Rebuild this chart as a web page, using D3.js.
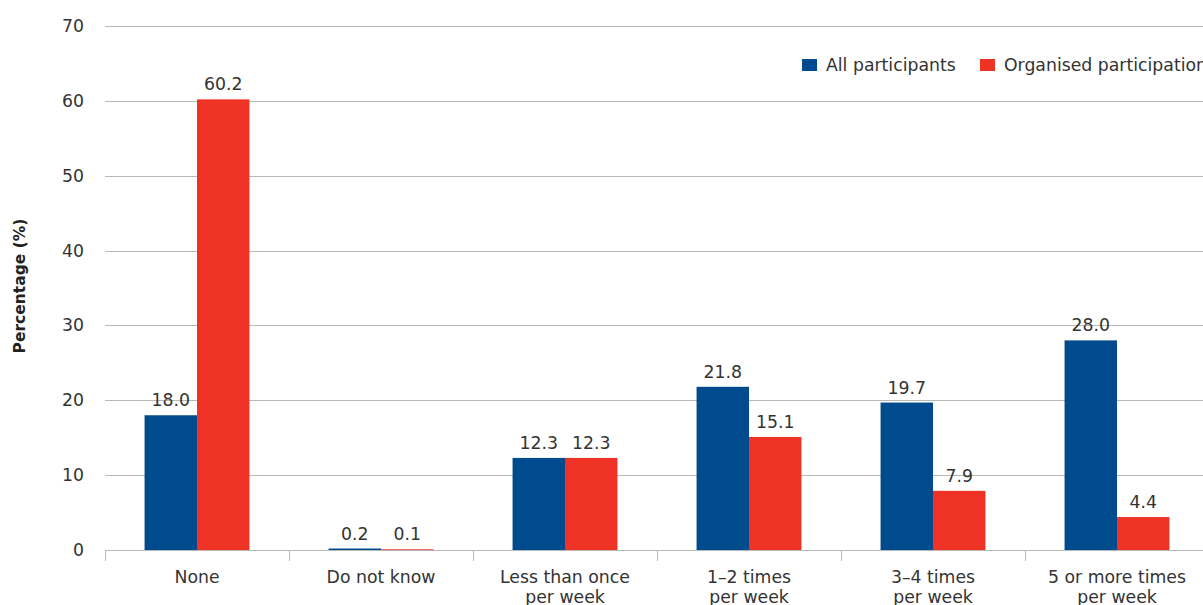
<!DOCTYPE html>
<html>
<head>
<meta charset="utf-8">
<script src="https://cdn.jsdelivr.net/npm/d3@7"></script>
<style>
  html, body { margin: 0; padding: 0; background: #fff; }
  svg { display: block; font-family: "DejaVu Sans", "Liberation Sans", Arial, sans-serif; }
</style>
</head>
<body>
<svg id="chart" width="1203" height="605"></svg>
<script>
// Frequency categories (each label may wrap onto two lines)
const categories = [
  ["None"],
  ["Do not know"],
  ["Less than once", "per week"],
  ["1\u20132 times", "per week"],
  ["3\u20134 times", "per week"],
  ["5 or more times", "per week"]
];
const seriesNames = ["All participants", "Organised participation"];
const allParticipants = [18.0, 0.2, 12.3, 21.8, 19.7, 28.0];
const organisedParticipation = [60.2, 0.1, 12.3, 15.1, 7.9, 4.4];
const yTicks = [0, 10, 20, 30, 40, 50, 60, 70];
const colors = ["#004b8d", "#ee3224"];

const svg = d3.select("#chart");
const plotLeft = 105, plotRight = 1209, plotTop = 26, plotBottom = 550;
const fontSize = 17.3;

const x0 = d3.scaleBand().domain(d3.range(categories.length)).range([plotLeft, plotRight]).paddingInner(0.43).paddingOuter(0.215);
const x1 = d3.scaleBand().domain([0, 1]).range([0, x0.bandwidth()]);
const y = d3.scaleLinear().domain([0, 70]).range([plotBottom, plotTop]);

// Horizontal gridlines
svg.append("g").selectAll("line").data(yTicks.filter(d => d > 0)).join("line")
  .attr("x1", plotLeft).attr("x2", 1203)
  .attr("y1", d => Math.round(y(d)) + 0.5).attr("y2", d => Math.round(y(d)) + 0.5)
  .attr("stroke", "#b8b8b8").attr("stroke-width", 1);

// Y tick labels
svg.append("g").selectAll("text").data(yTicks).join("text")
  .attr("x", 84).attr("y", d => y(d)).attr("dy", "0.35em")
  .attr("text-anchor", "end").attr("font-size", fontSize).attr("fill", "#333")
  .text(d => d);

// Y axis title
svg.append("text")
  .attr("transform", `translate(25,286) rotate(-90)`)
  .attr("text-anchor", "middle").attr("font-size", 15.5).attr("font-weight", "bold").attr("fill", "#222")
  .text("Percentage (%)");

// Bars
const series = [allParticipants, organisedParticipation];
const groups = svg.append("g").selectAll("g").data(categories.map((c, i) => i)).join("g")
  .attr("transform", i => `translate(${x0(i)},0)`);

groups.selectAll("rect").data(i => series.map((s, k) => ({ k, v: s[i] }))).join("rect")
  .attr("x", d => x1(d.k)).attr("width", x1.bandwidth())
  .attr("y", d => y(d.v)).attr("height", d => plotBottom - y(d.v))
  .attr("fill", d => colors[d.k]);

// Value labels
groups.selectAll("text").data(i => series.map((s, k) => ({ k, v: s[i] }))).join("text")
  .attr("x", d => x1(d.k) + x1.bandwidth() / 2)
  .attr("y", d => y(d.v) - 9)
  .attr("text-anchor", "middle").attr("font-size", fontSize).attr("fill", "#333")
  .text(d => d.v.toFixed(1));

// Baseline and category ticks
svg.append("line").attr("x1", plotLeft).attr("x2", 1203).attr("y1", plotBottom + 0.5).attr("y2", plotBottom + 0.5)
  .attr("stroke", "#b8b8b8");
const step = x0.step();
svg.append("g").selectAll("line").data(d3.range(categories.length + 1)).join("line")
  .attr("x1", i => Math.round(plotLeft + i * step) + 0.5).attr("x2", i => Math.round(plotLeft + i * step) + 0.5)
  .attr("y1", plotBottom).attr("y2", plotBottom + 11)
  .attr("stroke", "#b8b8b8");

// Category labels
const catText = svg.append("g").selectAll("text").data(categories).join("text")
  .attr("x", (d, i) => x0(i) + x0.bandwidth() / 2)
  .attr("y", 583)
  .attr("text-anchor", "middle").attr("font-size", fontSize).attr("fill", "#333");
catText.selectAll("tspan").data(d => d).join("tspan")
  .attr("x", function () { return d3.select(this.parentNode).attr("x"); })
  .attr("dy", (d, j) => j === 0 ? 0 : 20)
  .text(d => d);

// Legend
const legendX = [802, 980];
const legend = svg.append("g").selectAll("g").data(seriesNames).join("g")
  .attr("transform", (d, i) => `translate(${legendX[i]},59)`);
legend.append("rect").attr("width", 15).attr("height", 12).attr("fill", (d, i) => colors[i]);
legend.append("text").attr("x", 24).attr("y", 12)
  .attr("font-size", fontSize).attr("fill", "#333").text(d => d);
</script>
</body>
</html>
